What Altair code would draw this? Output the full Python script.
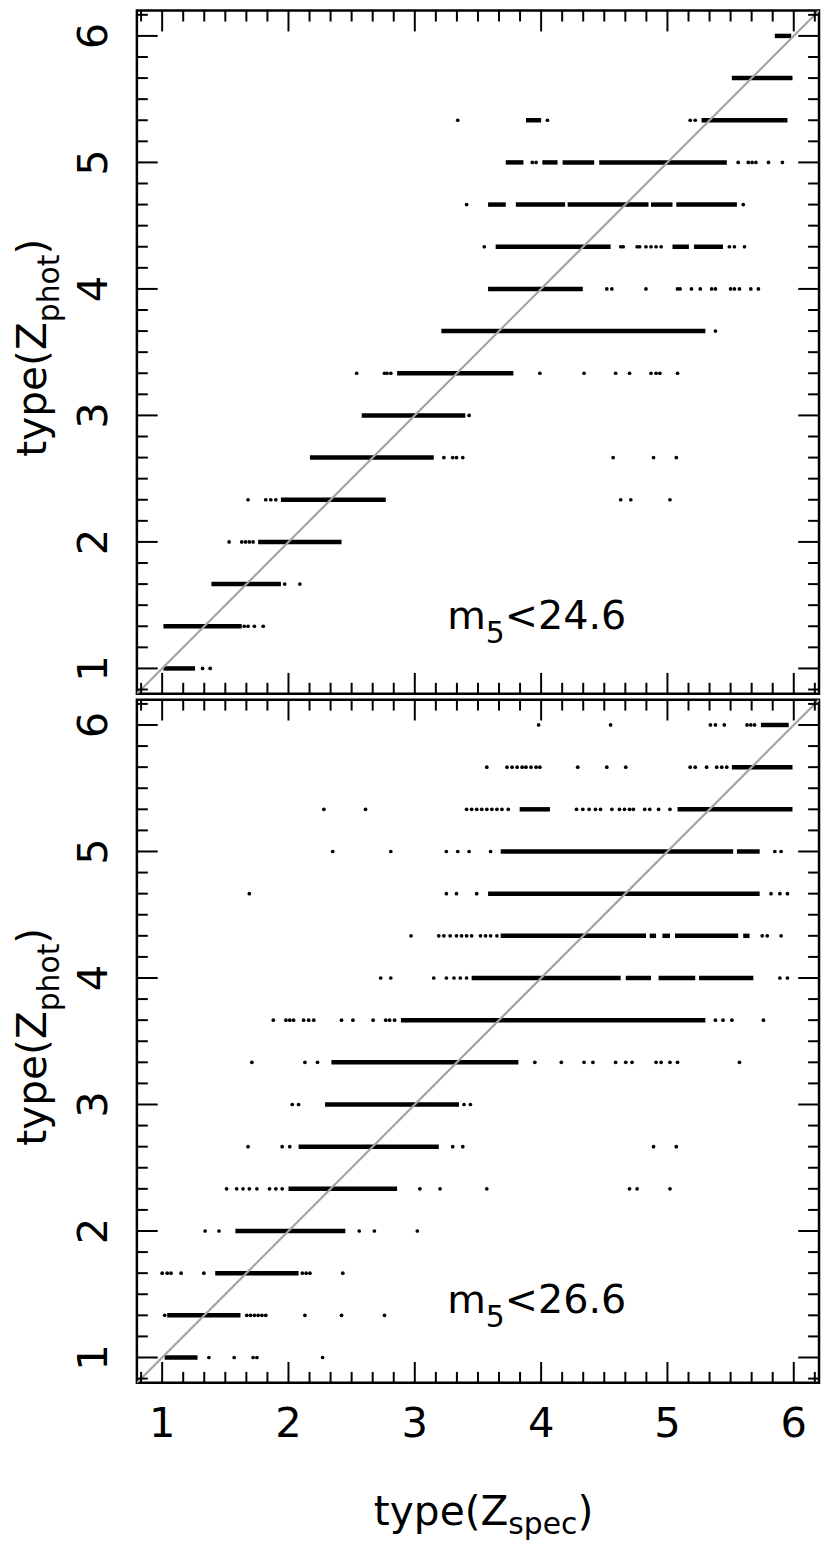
import altair as alt
import pandas as pd

# ---------------- data ----------------
# rows are photometric types on a 1/3 grid; runs = dense stretches (x_start, x_end), dots = isolated points
top_runs = {
    6: [(5.85, 5.98)],
    17/3: [(5.51, 5.99)],
    16/3: [(3.88, 4.00), (5.27, 5.95)],
    5: [(3.72, 3.86), (4.01, 4.13), (4.17, 4.42), (4.46, 5.47)],
    14/3: [(3.58, 3.72), (3.80, 4.19), (4.21, 4.85), (4.87, 5.04), (5.07, 5.55)],
    13/3: [(3.64, 4.55), (5.04, 5.17), (5.21, 5.44)],
    4: [(3.58, 4.33)],
    11/3: [(3.21, 5.30)],
    10/3: [(2.86, 3.78)],
    3: [(2.58, 3.40)],
    8/3: [(2.17, 3.15)],
    7/3: [(1.94, 2.77)],
    2: [(1.76, 2.42)],
    5/3: [(1.39, 1.94)],
    4/3: [(1.01, 1.63)],
    1: [(1.01, 1.26)],
}
top_dots = {
    16/3: [3.34, 4.05, 5.18, 5.22],
    5: [3.93, 3.96, 5.56, 5.64, 5.67, 5.70, 5.80, 5.91],
    14/3: [3.41, 5.60],
    13/3: [3.55, 4.63, 4.65, 4.76, 4.78, 4.83, 4.87, 4.91, 4.95, 5.49, 5.53, 5.61],
    4: [4.52, 4.56, 4.83, 5.08, 5.10, 5.19, 5.26, 5.35, 5.38, 5.50, 5.53, 5.57, 5.66, 5.72],
    11/3: [5.38],
    10/3: [2.54, 2.76, 2.78, 2.81, 3.99, 4.34, 4.59, 4.70, 4.87, 4.91, 4.94, 5.08],
    3: [3.43],
    8/3: [3.23, 3.30, 3.33, 3.38, 4.57, 4.89, 5.07],
    7/3: [1.68, 1.82, 1.86, 1.90, 4.63, 4.71, 5.02],
    2: [1.53, 1.63, 1.66, 1.69, 1.72],
    5/3: [1.97, 2.09],
    4/3: [1.65, 1.68, 1.73, 1.80],
    1: [1.32, 1.38],
}
bottom_runs = {
    6: [(5.74, 5.96)],
    17/3: [(5.51, 5.99)],
    16/3: [(3.83, 4.07), (5.08, 5.99)],
    5: [(3.68, 5.52), (5.55, 5.73)],
    14/3: [(3.58, 5.73)],
    13/3: [(3.68, 4.83), (4.86, 4.91), (4.96, 5.02), (5.06, 5.56), (5.60, 5.65)],
    4: [(3.45, 4.63), (4.67, 4.87), (4.93, 5.22), (5.25, 5.68)],
    11/3: [(2.89, 5.30)],
    10/3: [(2.34, 3.82)],
    3: [(2.29, 3.35)],
    8/3: [(2.08, 3.19)],
    7/3: [(2.00, 2.86)],
    2: [(1.58, 2.45)],
    5/3: [(1.42, 2.08)],
    4/3: [(1.04, 1.62)],
    1: [(1.02, 1.28)],
}
bottom_dots = {
    6: [3.98, 4.55, 5.34, 5.38, 5.45, 5.63, 5.66, 5.69],
    17/3: [3.57, 3.73, 3.77, 3.81, 3.85, 3.88, 3.92, 3.96, 3.99, 4.29, 4.52, 4.67,
           5.18, 5.22, 5.31, 5.39, 5.43, 5.47],
    16/3: [2.28, 2.61, 3.41, 3.45, 3.49, 3.53, 3.57, 3.61, 3.65, 3.69, 3.74, 4.28, 4.33,
           4.38, 4.43, 4.47, 4.56, 4.62, 4.66, 4.70, 4.73, 4.82, 4.86, 4.93, 5.02],
    5: [2.35, 2.81, 3.25, 3.34, 3.43, 3.60, 5.85, 5.90],
    14/3: [1.69, 3.25, 3.33, 3.49, 5.82, 5.89, 5.95],
    13/3: [2.97, 3.19, 3.23, 3.28, 3.33, 3.37, 3.41, 3.45, 3.52, 3.56, 3.60, 3.65,
           5.75, 5.79, 5.90],
    4: [2.73, 2.81, 3.15, 3.25, 3.31, 3.36, 3.41, 5.89, 5.95],
    11/3: [1.88, 1.98, 2.01, 2.04, 2.12, 2.16, 2.20, 2.42, 2.51, 2.67, 2.77, 2.80, 2.84,
           5.38, 5.44, 5.51, 5.76],
    10/3: [1.71, 2.13, 2.23, 3.95, 4.16, 4.34, 4.41, 4.59, 4.67, 4.72, 4.91, 4.95,
           5.02, 5.08, 5.57],
    3: [2.03, 2.08, 3.39, 3.44],
    8/3: [1.68, 1.95, 2.01, 3.30, 3.38, 4.89, 5.07],
    7/3: [1.51, 1.59, 1.64, 1.69, 1.75, 1.85, 1.90, 1.95, 3.04, 3.20, 3.57, 4.70, 4.76, 5.02],
    2: [1.34, 1.45, 2.56, 2.68, 3.02],
    5/3: [1.00, 1.04, 1.07, 1.15, 1.33, 2.11, 2.14, 2.17, 2.43],
    4/3: [1.02, 1.67, 1.70, 1.73, 1.76, 1.79, 1.82, 2.13, 2.42, 2.76],
    1: [1.37, 1.57, 1.72, 1.75, 2.27],
}
diag_vals = [0.8, 6.2]
major_ticks = [1, 2, 3, 4, 5, 6]
tick_labels = ["1", "2", "3", "4", "5", "6"]
minor_ticks = [k / 6 for k in range(5, 38) if k % 6 != 0]
axis_domain = [0.8, 6.2]
labels = ["24.6", "26.6"]

# ---------------- layout constants ----------------
W, H = 688, 689
FONT = "DejaVu Sans"
MAJ, MIN = 21, 11


def make_scale():
    return alt.Scale(domain=axis_domain, nice=False, zero=False)


def txt(s, x, y, size, angle=0, align="left"):
    return alt.Chart(pd.DataFrame({"t": [s]})).mark_text(
        text=s, font=FONT, fontSize=size, angle=angle, align=align,
        baseline="alphabetic", color="black"
    ).encode(x=alt.value(x), y=alt.value(y))


def panel(runs, dots, mag, bottom):
    xs, ys = make_scale(), make_scale()
    runs_df = pd.DataFrame([{"y": r, "x0": a, "x1": b} for r, lst in runs.items() for a, b in lst])
    dots_df = pd.DataFrame([{"y": r, "x": v} for r, lst in dots.items() for v in lst])
    lab_df = pd.DataFrame({"v": major_ticks, "lab": tick_labels})

    pts = alt.Chart(dots_df).mark_circle(size=14, color="black", opacity=1).encode(
        x=alt.X("x:Q", scale=xs, axis=None), y=alt.Y("y:Q", scale=ys, axis=None))
    segs = alt.Chart(runs_df).mark_rule(color="black", strokeWidth=4.5).encode(
        x=alt.X("x0:Q", scale=xs, axis=None), x2="x1:Q",
        y=alt.Y("y:Q", scale=ys, axis=None))
    diag = alt.Chart(pd.DataFrame({"x": diag_vals, "y": diag_vals})).mark_line(
        color="#a3a3a3", strokeWidth=2.2, clip=True).encode(
        x=alt.X("x:Q", scale=xs, axis=None), y=alt.Y("y:Q", scale=ys, axis=None))

    layers = [pts, segs, diag]
    for vals, ln in ((major_ticks, MAJ), (minor_ticks, MIN)):
        tdf = pd.DataFrame({"v": vals})
        base = alt.Chart(tdf).mark_rule(color="black", strokeWidth=2)
        layers.append(base.encode(x=alt.X("v:Q", scale=xs, axis=None),
                                  y=alt.value(H), y2=alt.value(H - ln)))
        layers.append(base.encode(x=alt.X("v:Q", scale=xs, axis=None),
                                  y=alt.value(0), y2=alt.value(ln)))
        layers.append(base.encode(y=alt.Y("v:Q", scale=ys, axis=None),
                                  x=alt.value(0), x2=alt.value(ln)))
        layers.append(base.encode(y=alt.Y("v:Q", scale=ys, axis=None),
                                  x=alt.value(W), x2=alt.value(W - ln)))

    # y tick labels (rotated)
    layers.append(alt.Chart(lab_df).mark_text(
        font=FONT, fontSize=42, angle=270, align="center", baseline="alphabetic",
        color="black").encode(y=alt.Y("v:Q", scale=ys, axis=None),
                              x=alt.value(-30), text="lab:N"))
    if bottom:
        layers.append(alt.Chart(lab_df).mark_text(
            font=FONT, fontSize=42, align="center", baseline="alphabetic",
            color="black").encode(x=alt.X("v:Q", scale=xs, axis=None),
                                  y=alt.value(H + 55), text="lab:N"))

    # y-axis title: type(Z_phot), rotated
    fm, fs = 41, 30
    w1 = 3.309 * fm
    w2 = 2.273 * fs
    y0 = 340 + (w1 + w2 + 0.39 * fm) / 2
    tx0 = -92
    layers += [
        txt("type(Z", tx0, y0, fm, angle=270),
        txt("phot", tx0 + 13, y0 - w1, fs, angle=270),
        txt(")", tx0, y0 - w1 - w2, fm, angle=270),
    ]
    # magnitude label m_5<...
    ay = 624 if not bottom else 619
    layers += [
        txt("m", 313, ay, 40),
        txt("5", 313 + 0.974 * 40, ay + 14, 30),
        txt("<" + mag, 313 + 0.974 * 40 + 0.636 * 30, ay, 40),
    ]
    if bottom:
        tx, tyb = 239, 832
        layers += [
            txt("type(Z", tx, tyb, fm),
            txt("spec", tx + w1, tyb + 10, fs),
            txt(")", tx + w1 + 2.321 * fs, tyb, fm),
        ]
    return alt.layer(*layers).properties(width=W, height=H)


top = panel(top_runs, top_dots, labels[0], False)
bot = panel(bottom_runs, bottom_dots, labels[1], True)

chart = alt.vconcat(top, bot, spacing=0).properties(
    padding={"left": 3, "top": -7, "right": 0, "bottom": 0}
).configure_view(stroke="black", strokeWidth=2.5, fill="white")

chart.save("out.html", embed_options={"renderer": "svg", "actions": False})
